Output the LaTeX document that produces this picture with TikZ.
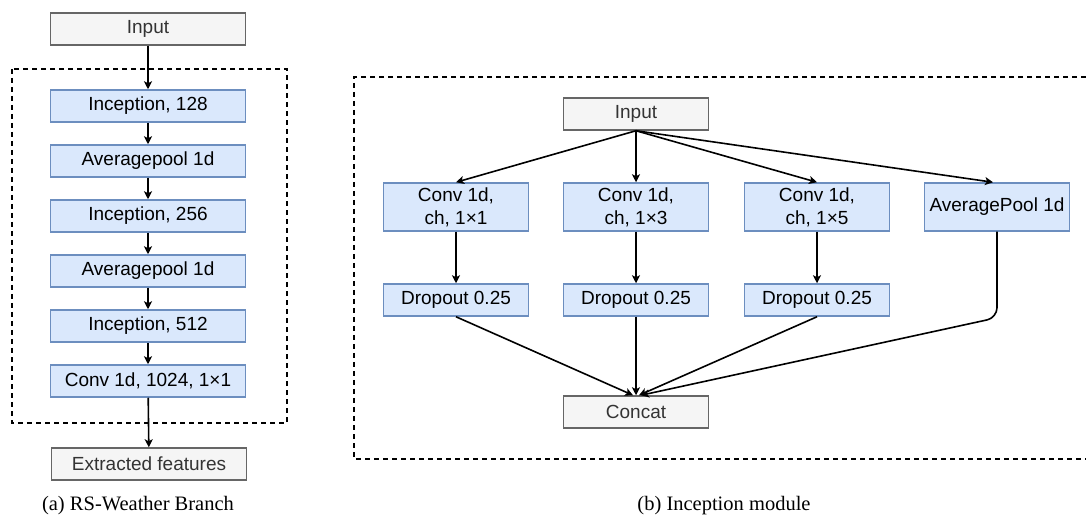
\documentclass[tikz,border=0pt]{standalone}
\usepackage{fontspec}
\setmainfont{Liberation Serif}
\setsansfont{Liberation Sans}
\usetikzlibrary{positioning, arrows.meta, calc}
\definecolor{blockFill}{HTML}{DAE8FC}
\definecolor{blockLine}{HTML}{6C8EBF}
\definecolor{ioFill}{HTML}{F5F5F5}
\definecolor{ioLine}{HTML}{666666}
\definecolor{ioText}{HTML}{333333}

\begin{document}
\begin{tikzpicture}[x=1pt, y=-1pt,
  block/.style={draw=blockLine, fill=blockFill, line width=1.5pt, inner sep=0pt, align=center,
    minimum height=32pt, font=\sffamily\fontsize{19}{23}\selectfont},
  io/.style={block, draw=ioLine, fill=ioFill, text=ioText},
  wide/.style={minimum width=195pt},
  narrow/.style={minimum width=145pt},
  tall/.style={minimum height=48pt},
  link/.style={-{Stealth[length=8pt, width=8pt, inset=2pt]}, line width=1.6pt},
  frame/.style={dash pattern=on 5pt off 4pt, line width=1.5pt},
  caption/.style={font=\fontsize{20.5}{24}\selectfont},
]
  \useasboundingbox (0,0) rectangle (1086,518);

  % left: the branch
  \draw[frame] (12,69) rectangle (287,423);
  \node[io, wide]    (inpA)  at (148,29)  {Input};
  \node[block, wide] (incA)  at (148,106) {Inception, 128};
  \node[block, wide] (poolA) at (148,161) {Averagepool 1d};
  \node[block, wide] (incB)  at (148,216) {Inception, 256};
  \node[block, wide] (poolB) at (148,271) {Averagepool 1d};
  \node[block, wide] (incC)  at (148,326) {Inception, 512};
  \node[block, wide] (convA) at (148,381) {Conv 1d, 1024, 1×1};
  \node[io, wide]    (featA) at (149,464) {Extracted features};
  \node[caption] (capA) at (138,506) {(a) RS-Weather Branch};

  \draw[link] (inpA) -- (incA);
  \draw[link] (incA) -- (poolA);
  \draw[link] (poolA) -- (incB);
  \draw[link] (incB) -- (poolB);
  \draw[link] (poolB) -- (incC);
  \draw[link] (incC) -- (convA);
  \draw[link] (convA) -- (featA);

  % right: one inception module
  \draw[frame] (1086,77) -- (354,77) -- (354,459) -- (1086,459);
  \node[io, narrow]          (inpB)   at (636,114) {Input};
  \node[block, narrow, tall] (conv1)  at (456,207) {Conv 1d,\\ch, 1×1};
  \node[block, narrow, tall] (conv3)  at (636,207) {Conv 1d,\\ch, 1×3};
  \node[block, narrow, tall] (conv5)  at (817,207) {Conv 1d,\\ch, 1×5};
  \node[block, narrow, tall] (poolC)  at (997,207) {AveragePool 1d};
  \node[block, narrow]       (drop1)  at (456,300) {Dropout 0.25};
  \node[block, narrow]       (drop3)  at (636,300) {Dropout 0.25};
  \node[block, narrow]       (drop5)  at (817,300) {Dropout 0.25};
  \node[io, narrow]          (concat) at (636,412) {Concat};
  \node[caption] (capB) at (724,506) {(b) Inception module};

  \draw[link] (inpB.south) -- (conv1.north);
  \draw[link] (inpB.south) -- (conv3.north);
  \draw[link] (inpB.south) -- (conv5.north);
  \draw[link] (inpB.south) -- ($(poolC.north)+(-4,0)$);
  \draw[link] (conv1) -- (drop1);
  \draw[link] (conv3) -- (drop3);
  \draw[link] (conv5) -- (drop5);
  \draw[link] (drop1.south) -- ($(concat.north)+(-3,0)$);
  \draw[link] (drop3.south) -- (concat.north);
  \draw[link] (drop5.south) -- ($(concat.north)+(3,0)$);
  \draw[link, rounded corners=10pt] (poolC.south) -- ($(poolC.south)+(0,86)$) -- ($(concat.north)+(5,0)$);
\end{tikzpicture}
\end{document}
